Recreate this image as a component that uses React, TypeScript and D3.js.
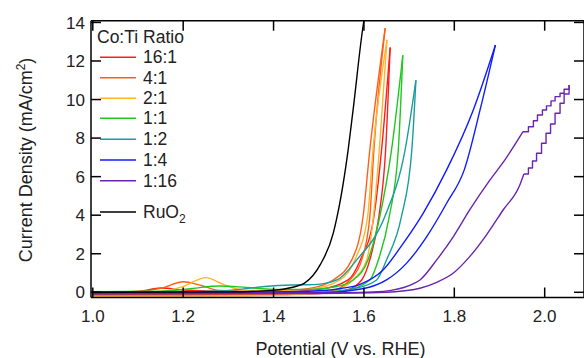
import React from 'react';
import * as d3 from 'd3';

// Co:Ti ratio series, [potential V, current mA/cm2], anodic (up) and return (down) branches
const ratio16to1Up = [[1.0, 0.02], [1.1, 0.05], [1.15, 0.22], [1.2, 0.12], [1.3, 0.05], [1.42, 0.06], [1.5, 0.15], [1.565, 0.64], [1.592, 1.68], [1.622, 3.92], [1.639, 7.38], [1.658, 12.7]];
const ratio16to1Down = [[1.0, -0.12], [1.3, -0.1], [1.5, -0.06], [1.56, 0.1], [1.595, 0.64], [1.613, 1.68], [1.633, 3.92], [1.648, 7.38], [1.658, 12.7]];

const ratio4to1Up = [[1.0, 0.02], [1.1, 0.05], [1.15, 0.2], [1.2, 0.55], [1.24, 0.35], [1.28, 0.1], [1.35, 0.06], [1.42, 0.08], [1.48, 0.2], [1.532, 0.64], [1.573, 1.68], [1.598, 3.92], [1.613, 7.38], [1.647, 13.7]];
const ratio4to1Down = [[1.0, -0.18], [1.2, -0.15], [1.4, -0.12], [1.5, -0.05], [1.545, 0.2], [1.569, 0.64], [1.595, 1.68], [1.613, 3.92], [1.622, 7.38], [1.647, 13.7]];

const ratio2to1Up = [[1.0, 0.0], [1.15, 0.05], [1.2, 0.3], [1.25, 0.76], [1.29, 0.4], [1.33, 0.12], [1.4, 0.06], [1.48, 0.15], [1.547, 0.64], [1.58, 1.68], [1.608, 3.92], [1.62, 7.38], [1.651, 13.1]];
const ratio2to1Down = [[1.0, -0.22], [1.3, -0.2], [1.45, -0.12], [1.52, 0.0], [1.55, 0.2], [1.576, 0.64], [1.606, 1.68], [1.621, 3.92], [1.634, 7.38], [1.651, 13.1]];

const ratio1to1Up = [[1.0, 0.03], [1.15, 0.06], [1.22, 0.2], [1.28, 0.33], [1.34, 0.25], [1.4, 0.15], [1.48, 0.15], [1.54, 0.3], [1.576, 0.64], [1.609, 1.68], [1.635, 3.92], [1.661, 7.38], [1.686, 12.3]];
const ratio1to1Down = [[1.0, -0.06], [1.3, -0.05], [1.5, -0.02], [1.56, 0.1], [1.613, 0.64], [1.632, 1.68], [1.656, 3.92], [1.676, 7.38], [1.686, 12.3]];

const ratio1to2Up = [[1.0, 0.0], [1.2, 0.03], [1.3, 0.1], [1.38, 0.3], [1.44, 0.38], [1.49, 0.4], [1.54, 0.64], [1.584, 1.68], [1.646, 3.92], [1.691, 7.38], [1.715, 11.0]];
const ratio1to2Down = [[1.0, -0.04], [1.3, -0.03], [1.5, 0.0], [1.58, 0.2], [1.628, 0.64], [1.65, 1.68], [1.683, 3.92], [1.706, 7.38], [1.715, 11.0]];

const ratio1to4Up = [[1.0, 0.0], [1.4, 0.02], [1.5, 0.08], [1.55, 0.2], [1.59, 0.4], [1.64, 1.1], [1.687, 2.54], [1.731, 4.1], [1.783, 6.35], [1.842, 9.46], [1.891, 12.83]];
const ratio1to4Down = [[1.0, -0.04], [1.5, -0.02], [1.6, 0.2], [1.65, 0.64], [1.694, 1.5], [1.739, 2.89], [1.783, 4.62], [1.822, 6.35], [1.857, 9.46], [1.891, 12.83]];

const ratio1to16Up = [[1.0, -0.05], [1.5, -0.03], [1.62, 0.02], [1.66, 0.1], [1.71, 0.45], [1.724, 0.64], [1.761, 1.68], [1.798, 2.89], [1.834, 4.27], [1.879, 5.83], [1.912, 6.87], [1.952, 8.33]];
const ratio1to16StepUp = [[1.952, 8.33], [1.964, 8.59], [1.975, 8.9], [1.984, 9.2], [1.995, 9.46], [2.004, 9.67], [2.014, 9.93], [2.023, 10.15], [2.034, 10.33], [2.043, 10.53], [2.054, 10.76]];
const ratio1to16StepDown = [[1.954, 6.14], [1.964, 6.45], [1.973, 6.81], [1.982, 7.21], [1.993, 7.73], [2.003, 8.25], [2.013, 8.73], [2.023, 9.29], [2.034, 9.81], [2.043, 10.29], [2.054, 10.76]];
const ratio1to16Down = [[1.0, -0.08], [1.5, -0.06], [1.65, 0.0], [1.69, 0.08], [1.724, 0.21], [1.761, 0.52], [1.798, 1.0], [1.834, 1.85], [1.871, 2.97], [1.908, 4.27], [1.945, 5.57], [1.954, 6.14]];

const ruO2 = [[1.0, 0.0], [1.3, 0.02], [1.4, 0.1], [1.44, 0.25], [1.47, 0.5], [1.503, 1.42], [1.532, 3.06], [1.565, 7.38], [1.576, 9.46], [1.6, 14.1], [1.603, 14.5]];

const ratioLabels = ['16:1', '4:1', '2:1', '1:1', '1:2', '1:4', '1:16'];
const ratioColors = ['#ff1c1c', '#ff5e1a', '#ffb42a', '#1fc81f', '#1a9c9c', '#0f1cff', '#6a24b0'];
const xTicks = [1.0, 1.2, 1.4, 1.6, 1.8, 2.0];
const yTicks = [0, 2, 4, 6, 8, 10, 12, 14];

const W = 584;
const H = 358;
const left = 91;
const top = 20.7;
const right = 584;
const bottom = 297.5;
const tick = 10;
const font = 'Liberation Sans, Arial, sans-serif';

export default function App() {
  const x = d3.scaleLinear().domain([0.996, 2.087]).range([left, right]);
  const y = d3.scaleLinear().domain([-0.27, 14.09]).range([bottom, top]);

  const smooth = d3.line<number[]>().x((d) => x(d[0])).y((d) => y(d[1])).curve(d3.curveMonotoneX);
  const steps = d3.line<number[]>().x((d) => x(d[0])).y((d) => y(d[1])).curve(d3.curveStepAfter);

  const branches = [
    [ratio16to1Up, ratio16to1Down],
    [ratio4to1Up, ratio4to1Down],
    [ratio2to1Up, ratio2to1Down],
    [ratio1to1Up, ratio1to1Down],
    [ratio1to2Up, ratio1to2Down],
    [ratio1to4Up, ratio1to4Down],
    [ratio1to16Up, ratio1to16Down],
  ];

  const legendRows = [57.3, 77.7, 98.3, 118.3, 139.3, 160, 180.7];

  return (
    <svg width={W} height={H} style={{ position: 'absolute', left: 0, top: 0, background: '#fff' }} fontFamily={font}>
      <defs>
        <clipPath id="plot">
          <rect x={left} y={top} width={right - left} height={bottom - top} />
        </clipPath>
      </defs>

      <g clipPath="url(#plot)" fill="none" strokeWidth={1.4} strokeLinejoin="round">
        {branches.map((b, i) => (
          <g key={i} stroke={ratioColors[i]}>
            <path d={smooth(b[0]) ?? ''} />
            <path d={smooth(b[1]) ?? ''} />
          </g>
        ))}
        <path d={steps(ratio1to16StepUp) ?? ''} stroke={ratioColors[6]} />
        <path d={steps(ratio1to16StepDown) ?? ''} stroke={ratioColors[6]} />
        <path d={smooth(ruO2) ?? ''} stroke="#000" />
      </g>

      {/* frame */}
      <g stroke="#000" strokeWidth={1.5}>
        <line x1={left} x2={right} y1={top} y2={top} />
        <line x1={left} x2={right} y1={bottom} y2={bottom} />
        <line x1={left} x2={left} y1={top} y2={bottom} />
        <line x1={right} x2={right} y1={top} y2={bottom} />
        {xTicks.map((t) => (
          <g key={t}>
            <line x1={x(t)} x2={x(t)} y1={bottom} y2={bottom - tick} />
            <line x1={x(t)} x2={x(t)} y1={top} y2={top + tick} />
          </g>
        ))}
        {yTicks.map((t) => (
          <g key={t}>
            <line x1={left} x2={left + tick} y1={y(t)} y2={y(t)} />
            <line x1={right} x2={right - tick} y1={y(t)} y2={y(t)} />
          </g>
        ))}
      </g>

      <g fontSize={17} fill="#222">
        {xTicks.map((t) => (
          <text key={t} x={x(t)} y={321.5} textAnchor="middle">
            {t.toFixed(1)}
          </text>
        ))}
        {yTicks.map((t) => (
          <text key={t} x={85} y={y(t)} dy="0.36em" textAnchor="end">
            {t}
          </text>
        ))}
      </g>

      <text x={(left + right) / 2 + 3} y={355} textAnchor="middle" fontSize={18} fill="#222">
        Potential (V vs. RHE)
      </text>
      <text transform="translate(32,160) rotate(-90)" textAnchor="middle" fontSize={18} fill="#222">
        Current Density (mA/cm<tspan dy={-7} fontSize={12}>2</tspan>
        <tspan dy={7}>)</tspan>
      </text>

      {/* legend */}
      <g fontSize={17.5} fill="#222">
        <text x={97} y={42.7}>Co:Ti Ratio</text>
        {ratioLabels.map((name, i) => (
          <g key={name}>
            <line x1={100} x2={136} y1={legendRows[i]} y2={legendRows[i]} stroke={ratioColors[i]} strokeWidth={1.4} />
            <text x={143} y={legendRows[i] + 6}>{name}</text>
          </g>
        ))}
        <line x1={100} x2={136} y1={212} y2={212} stroke="#000" strokeWidth={1.4} />
        <text x={143} y={218}>
          RuO<tspan dy={5} fontSize={12}>2</tspan>
        </text>
      </g>
    </svg>
  );
}
